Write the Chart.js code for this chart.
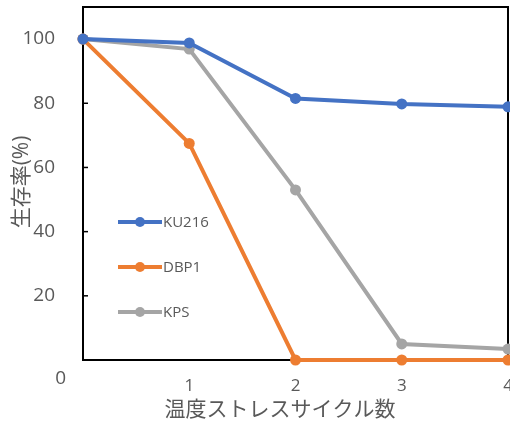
<!DOCTYPE html>
<html>
<head>
<meta charset="utf-8">
<script src="https://cdn.jsdelivr.net/npm/chart.js@4"></script>
<style>
    html, body { margin: 0; padding: 0; background: #fff; }
    #wrap { width: 510px; height: 425px; position: relative; }
</style>
</head>
<body>
<div id="wrap"><canvas id="survivalChart"></canvas></div>
<script>
// Data
const cycles = [0, 1, 2, 3, 4];
const seriesNames = ['KU216', 'DBP1', 'KPS'];
const ku216Values = [100, 98.8, 81.5, 79.8, 78.9];
const dbp1Values = [100, 67.5, 0, 0, 0];
const kpsValues = [100, 96.9, 53, 5, 3.4];
const xTickValues = [1, 2, 3, 4];
const yTickValues = [0, 20, 40, 60, 80, 100];
const xTitle = '温度ストレスサイクル数';
const yTitle = '生存率(%)';

const colors = ['#4472C4', '#ED7D31', '#A5A5A5'];
const FONT = "'Open Sans', 'Noto Sans CJK JP', sans-serif";
const TEXT_COLOR = '#595959';

function toPoints(values) {
    return cycles.map((c, i) => ({ x: c, y: values[i] }));
}

/**
 * Frame, inner tick marks, x labels, axis titles, shifted "0" label and in-plot legend
 */
const decorPlugin = {
    id: 'decor',
    beforeDatasetsDraw(chart) {
        const { ctx, chartArea } = chart;
        const xScale = chart.scales.x;
        const yScale = chart.scales.y;
        ctx.save();
        ctx.strokeStyle = '#000';
        ctx.lineWidth = 2;
        ctx.strokeRect(chartArea.left, chartArea.top, chartArea.right - chartArea.left, chartArea.bottom - chartArea.top);
        // short ticks pointing into the plot
        ctx.lineWidth = 1.5;
        yTickValues.forEach(v => {
            if (v === 0) return;
            const py = yScale.getPixelForValue(v);
            ctx.beginPath();
            ctx.moveTo(chartArea.left, py);
            ctx.lineTo(chartArea.left + 5, py);
            ctx.stroke();
        });
        ctx.fillStyle = TEXT_COLOR;
        ctx.textBaseline = 'middle';
        // the "0" label sits below the axis in the original
        ctx.font = `19px ${FONT}`;
        ctx.textAlign = 'right';
        ctx.fillText('0', chartArea.left - 17, yScale.getPixelForValue(0) + 19);
        // x tick labels (last one runs off the canvas edge like the original)
        ctx.textAlign = 'center';
        ctx.font = `17px ${FONT}`;
        xTickValues.forEach(v => {
            ctx.fillText(String(v), xScale.getPixelForValue(v), chartArea.bottom + 26);
        });
        // axis titles
        ctx.font = `21px ${FONT}`;
        ctx.fillText(xTitle, chartArea.left + 197, chartArea.bottom + 50);
        ctx.save();
        ctx.translate(chartArea.left - 61, chartArea.top + 175);
        ctx.rotate(-Math.PI / 2);
        ctx.fillText(yTitle, 0, 0);
        ctx.restore();
        ctx.restore();
    },
    afterDatasetsDraw(chart) {
        const { ctx, chartArea } = chart;
        ctx.save();
        chart.data.datasets.forEach((ds, i) => {
            const y = chartArea.top + 215 + i * 45;
            const x0 = chartArea.left + 35;
            ctx.strokeStyle = ds.borderColor;
            ctx.lineWidth = 4;
            ctx.beginPath();
            ctx.moveTo(x0, y);
            ctx.lineTo(x0 + 44, y);
            ctx.stroke();
            ctx.fillStyle = ds.borderColor;
            ctx.beginPath();
            ctx.arc(x0 + 22, y, 5, 0, Math.PI * 2);
            ctx.fill();
            ctx.fillStyle = TEXT_COLOR;
            ctx.font = `15px ${FONT}`;
            ctx.textAlign = 'left';
            ctx.textBaseline = 'middle';
            ctx.fillText(ds.label, x0 + 45, y + 1);
        });
        ctx.restore();
    }
};

const datasets = [ku216Values, dbp1Values, kpsValues].map((vals, i) => ({
    label: seriesNames[i],
    data: toPoints(vals),
    borderColor: colors[i],
    backgroundColor: colors[i],
    borderWidth: 4,
    pointRadius: 5.5,
    pointHoverRadius: 5.5,
    pointBorderWidth: 0,
    tension: 0,
    clip: false
}));

new Chart(document.getElementById('survivalChart'), {
    type: 'line',
    data: { datasets },
    plugins: [decorPlugin],
    options: {
        responsive: true,
        maintainAspectRatio: false,
        animation: false,
        layout: {
            autoPadding: false,
            padding: { top: 7, right: 2, left: 0, bottom: 0 }
        },
        plugins: {
            legend: { display: false },
            tooltip: { enabled: false }
        },
        scales: {
            x: {
                type: 'linear',
                min: 0,
                max: 4,
                afterBuildTicks: scale => {
                    scale.ticks = xTickValues.map(v => ({ value: v }));
                },
                afterFit: scale => {
                    scale.height = 65;
                    scale.paddingRight = 0;
                    scale.paddingLeft = 0;
                    scale.paddingTop = 0;
                    scale.paddingBottom = 0;
                },
                grid: { display: false },
                border: { display: false },
                ticks: { display: false }
            },
            y: {
                type: 'linear',
                min: 0,
                max: 110,
                afterBuildTicks: scale => {
                    scale.ticks = yTickValues.map(v => ({ value: v }));
                },
                afterFit: scale => {
                    scale.width = 83;
                    scale.paddingRight = 0;
                    scale.paddingLeft = 0;
                    scale.paddingTop = 0;
                    scale.paddingBottom = 0;
                },
                grid: { display: false },
                border: { display: false },
                ticks: {
                    color: TEXT_COLOR,
                    font: { family: FONT, size: 19 },
                    padding: 20,
                    callback: v => (v === 0 ? '' : v)
                }
            }
        }
    }
});
</script>
</body>
</html>
